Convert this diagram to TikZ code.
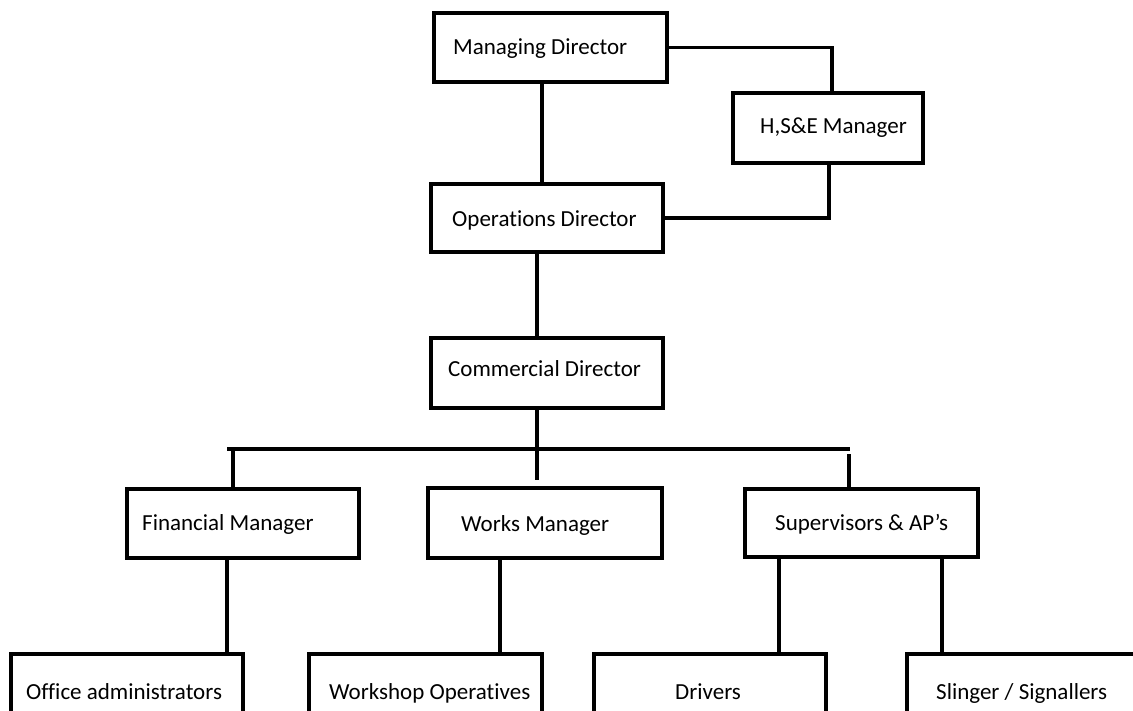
\documentclass[tikz,border=0pt]{standalone}
\usepackage{fontspec}
\setmainfont[Ligatures=NoCommon]{Carlito}
\begin{document}
\begin{tikzpicture}[x=1pt,y=-1pt,
  box/.style={draw=black,line width=3.2pt,fill=white,inner sep=0pt},
  lbl/.style={anchor=base west,inner sep=0pt,font=\fontsize{23}{27}\selectfont},
  conn/.style={draw=black,line width=3.2pt}]
\useasboundingbox (0,0) rectangle (1133,711);
\clip (0,0) rectangle (1133,711);
% boxes
\node[box,minimum width=233pt,minimum height=69pt] (md)   at (550.5,47.5) {};
\node[box,minimum width=190pt,minimum height=70pt] (hse)  at (828,128) {};
\node[box,minimum width=232pt,minimum height=68pt] (ops)  at (547,218) {};
\node[box,minimum width=232pt,minimum height=70pt] (comm) at (547,373) {};
\node[box,minimum width=232pt,minimum height=69pt] (fin)  at (243,523.5) {};
\node[box,minimum width=234pt,minimum height=70pt] (works) at (545,523) {};
\node[box,minimum width=233pt,minimum height=68pt] (sup)  at (861.5,523) {};
\node[box,minimum width=232pt,minimum height=80pt] (off)  at (127,694) {};
\node[box,minimum width=233pt,minimum height=80pt] (wsop) at (425.5,694) {};
\node[box,minimum width=232pt,minimum height=80pt] (drv)  at (710,694) {};
\node[box,minimum width=234pt,minimum height=80pt] (sling) at (1024,694) {};
% labels
\node[lbl] (tmd)   at (453,55)  {Managing Director};
\node[lbl] (thse)  at (760,134) {H,S\&E Manager};
\node[lbl] (tops)  at (452,227) {Operations Director};
\node[lbl] (tcomm) at (448,377) {Commercial Director};
\node[lbl] (tfin)  at (142,530) {Financial Manager};
\node[lbl] (tworks) at (461,531) {Works Manager};
\node[lbl] (tsup)  at (775,530) {Supervisors \& AP’s};
\node[lbl] (toff)  at (26,699)  {Office administrators};
\node[lbl] (twsop) at (329,699) {Workshop Operatives};
\node[lbl] (tdrv)  at (675,699) {Drivers};
\node[lbl] (tsling) at (936,699) {Slinger / Signallers};
% bus coordinates
\coordinate (busL) at (229,449);
\coordinate (busR) at (848,449);
\coordinate (busM) at (537,449);
% connectors
\draw[conn] ([xshift=-8.5pt]md.south) -- ([xshift=-8.5pt]md.south |- ops.north);
\draw[conn] (md.east) -| ([xshift=4pt]hse.north);
\draw[conn] ([xshift=1pt]hse.south) |- (ops.east);
\draw[conn] ([xshift=-10pt]ops.south) -- ([xshift=-10pt]ops.south |- comm.north);
\draw[conn] ([xshift=-10pt]comm.south) -- (busM);
\draw[conn,line cap=rect] (busL) -- (busR);
\draw[conn] ([xshift=4pt]busL) -- ([xshift=-10pt]fin.north);
\draw[conn] (busM) -- ([xshift=-8pt,yshift=6pt]works.north);
\draw[conn] ([xshift=1pt,yshift=-5pt]busR) -- ([xshift=-12.5pt]sup.north);
\draw[conn] ([xshift=-16pt]fin.south) -- ([xshift=-16pt]fin.south |- off.north);
\draw[conn] ([xshift=-45pt]works.south) -- ([xshift=-45pt]works.south |- wsop.north);
\draw[conn] ([xshift=-82.5pt]sup.south) -- ([xshift=-82.5pt]sup.south |- drv.north);
\draw[conn] ([xshift=80.5pt]sup.south) -- ([xshift=80.5pt]sup.south |- sling.north);
\end{tikzpicture}
\end{document}
